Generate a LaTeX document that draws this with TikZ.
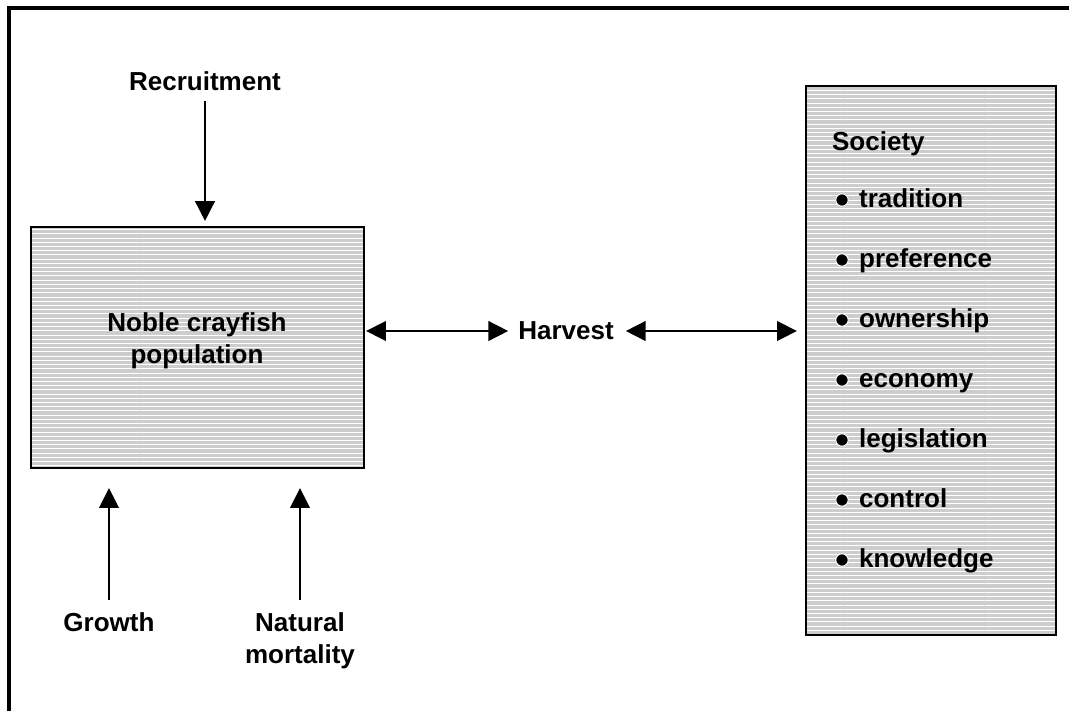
\documentclass[tikz,border=0pt]{standalone}
\usepackage{fontspec}
\setmainfont{Liberation Sans}
\usetikzlibrary{arrows.meta,patterns}
\definecolor{boxgray}{RGB}{205,205,205}
\tikzset{
  lab/.style={font=\fontsize{18.5}{23}\selectfont\bfseries, align=center, inner sep=2pt},
  boxed/.style={draw, line width=1.6pt, preaction={fill=boxgray}, pattern=horizontal lines, pattern color=white, inner sep=0pt},
  arr/.style={-{Triangle[width=14pt,length=14pt]}, line width=1.1pt},
  dblarr/.style={{Triangle[width=14pt,length=14pt]}-{Triangle[width=14pt,length=14pt]}, line width=1.1pt},
  bul/.style={circle, fill=black, draw=white, line width=0.7pt, inner sep=0pt, minimum size=8.8pt}
}
\begin{document}
\begin{tikzpicture}[x=0.025cm,y=-0.025cm]
    \useasboundingbox (0,0) rectangle (1069,711);
    % Outer frame (only top and left edges in view)
    \draw[line width=2.5pt] (9,711) -- (9,8) -- (1069,8);

    % The population box
    \node[boxed, minimum width=8.325cm, minimum height=6.025cm] (Pop) at (197.5,347.5) {};
    \node[lab] (PopText) at (197,341) {Noble crayfish\\population};

    % The society box and its list
    \node[boxed, minimum width=6.25cm, minimum height=13.725cm] (Soc) at (931,360.5) {};
    \node[lab, anchor=base west] (SocText) at (829,150) {Society};
    \foreach \name [count=\i] in {tradition,preference,ownership,economy,legislation,control,knowledge} {
        \node[bul] (B\i) at (842,140+60*\i) {};
        \node[lab, anchor=base west] (Item\i) at (856,147+60*\i) {\name};
    }

    % Labels round the population
    \node[lab] (Rec) at (205,81) {Recruitment};
    \node[lab] (Growth) at (109,622.5) {Growth};
    \node[lab] (Mort) at (300,641) {Natural\\mortality};
    \node[lab] (Harvest) at (566,331) {Harvest};

    % Flows in and out
    \draw[arr, shorten <=5pt, shorten >=3.5pt] (Rec) -- (Rec |- Pop.north);
    \draw[arr, shorten <=7pt, shorten >=13.5pt] (Growth) -- (Growth |- Pop.south);
    \draw[arr, shorten <=7pt, shorten >=13.5pt] (Mort) -- (Mort |- Pop.south);
    \draw[dblarr, shorten <=0.7pt, shorten >=5pt] (Pop.east |- Harvest) -- (Harvest);
    \draw[dblarr, shorten <=6.4pt, shorten >=5.7pt] (Harvest) -- (Soc.west |- Harvest);
\end{tikzpicture}
\end{document}
